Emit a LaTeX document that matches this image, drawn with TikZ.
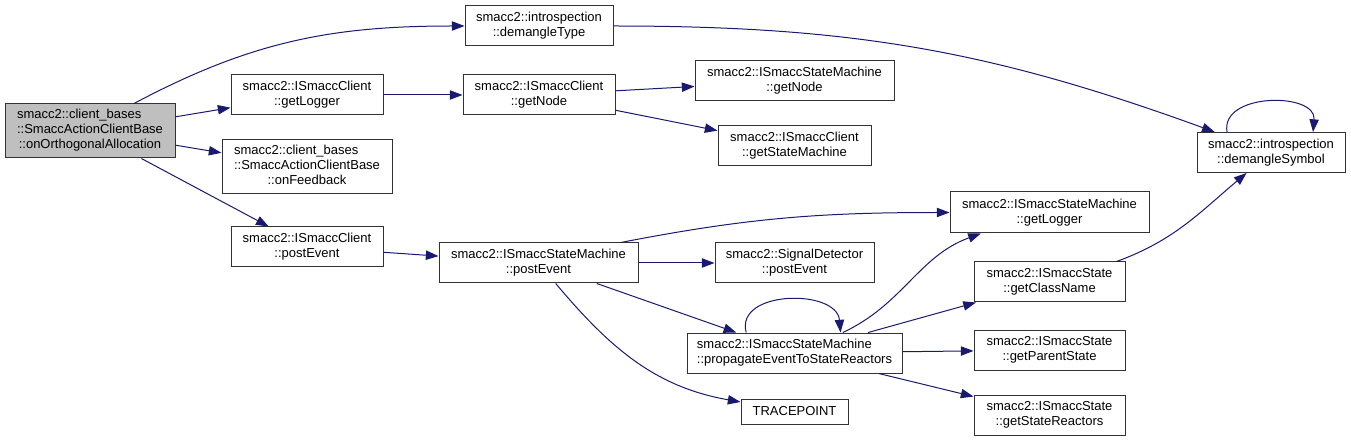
\documentclass[tikz,border=0pt]{standalone}
\usepackage{fontspec}
\setmainfont{Liberation Sans}
\usetikzlibrary{arrows.meta}
\definecolor{edgeblue}{HTML}{191970}
\definecolor{nodegray}{HTML}{BFBFBF}
\begin{document}
\begin{tikzpicture}[x=0.75pt, y=-0.75pt, font=\fontsize{9.75}{11.25}\selectfont,
    fn/.style 2 args={draw=black!80, line width=0.75pt, inner sep=0pt, align=center,
      minimum width=#1*0.75pt, minimum height=#2*0.75pt},
    edge/.style={draw=edgeblue, line width=0.75pt, -{Triangle[length=9.5pt, width=7pt]}}]
      \useasboundingbox (0,0) rectangle (1351,441);
      % functions
      \node[fn={170}{54}, fill=nodegray] (main) at (90,131) {\begin{tabular}{@{}l@{}}smacc2::client\_bases\\::SmaccActionClientBase\\\multicolumn{1}{@{}c@{}}{::onOrthogonalAllocation}\end{tabular}};
      \node[fn={148}{40}] (dType) at (539,26) {smacc2::introspection\\::demangleType};
      \node[fn={152}{40}] (cLog) at (307,95) {smacc2::ISmaccClient\\::getLogger};
      \node[fn={170}{54}] (onFb) at (307,167) {\begin{tabular}{@{}l@{}}smacc2::client\_bases\\::SmaccActionClientBase\\\multicolumn{1}{@{}c@{}}{::onFeedback}\end{tabular}};
      \node[fn={152}{40}] (cPost) at (307,247) {smacc2::ISmaccClient\\::postEvent};
      \node[fn={152}{40}] (cNode) at (539,95) {smacc2::ISmaccClient\\::getNode};
      \node[fn={199}{40}] (smNode) at (794.5,81) {smacc2::ISmaccStateMachine\\::getNode};
      \node[fn={153}{40}] (cSM) at (794.5,146) {smacc2::ISmaccClient\\::getStateMachine};
      \node[fn={199}{40}] (smPost) at (538.5,263) {smacc2::ISmaccStateMachine\\::postEvent};
      \node[fn={159}{40}] (sdPost) at (794.5,263) {smacc2::SignalDetector\\::postEvent};
      \node[fn={215}{40}, align=left] (smProp) at (794.5,353) {smacc2::ISmaccStateMachine\\::propagateEventToStateReactors};
      \node[fn={107}{25}] (trace) at (794.5,411.5) {TRACEPOINT};
      \node[fn={148}{40}] (dSym) at (1271,152.5) {smacc2::introspection\\::demangleSymbol};
      \node[fn={199}{41}] (smLog) at (1049.5,212.5) {smacc2::ISmaccStateMachine\\::getLogger};
      \node[fn={151}{40}] (stClass) at (1049.5,282) {smacc2::ISmaccState\\::getClassName};
      \node[fn={151}{40}] (stParent) at (1049.5,350) {smacc2::ISmaccState\\::getParentState};
      \node[fn={151}{40}] (stReact) at (1049.5,415) {smacc2::ISmaccState\\::getStateReactors};
      % calls
      \draw[edge] (main.32) to[out=28, in=180] (dType);
      \draw[edge] (main) -- (cLog);
      \draw[edge] (main) -- (onFb);
      \draw[edge] (main) -- (cPost);
      \draw[edge] (dType) to[out=0, in=160] (dSym);
      \draw[edge] (cLog) -- (cNode);
      \draw[edge] (cNode) -- (smNode);
      \draw[edge] (cNode) -- (cSM);
      \draw[edge] (cPost) -- (smPost);
      \draw[edge] (smPost.14) to[out=11, in=180] (smLog);
      \draw[edge] (smPost) -- (sdPost);
      \draw[edge] (smPost) -- (smProp);
      \draw[edge] (smPost.-50) to[out=-50, in=170] (trace);
      \draw[edge] (smProp.157) to[out=105, in=95, looseness=1.2] (smProp.24);
      \draw[edge] (smProp.23) to[out=25, in=200] (smLog.197);
      \draw[edge] (smProp) -- (stClass);
      \draw[edge] (smProp) -- (stParent);
      \draw[edge] (smProp) -- (stReact);
      \draw[edge] (stClass.17) to[out=20, in=220] (dSym.220);
      \draw[edge] (dSym.155) to[out=100, in=85, looseness=1.2] (dSym.26);
    \end{tikzpicture}
\end{document}
